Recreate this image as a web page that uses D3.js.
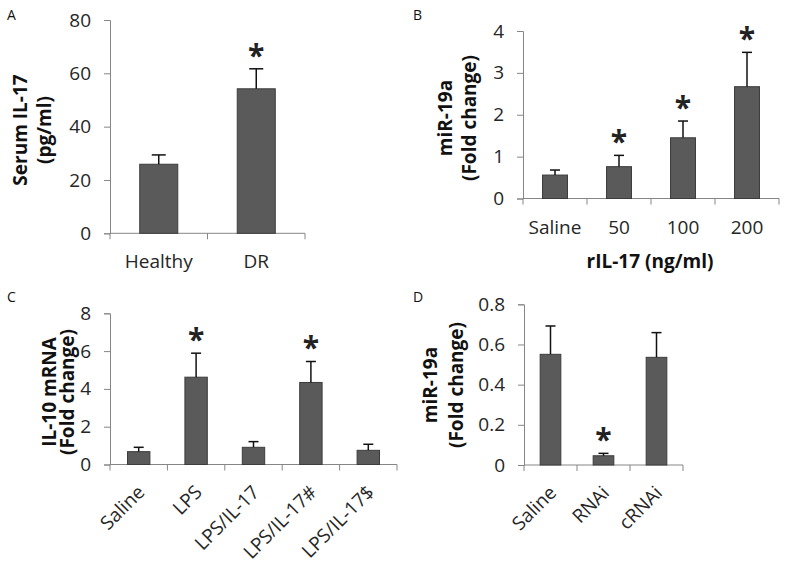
<!DOCTYPE html>
<html><head><meta charset="utf-8">
<script src="https://cdn.jsdelivr.net/npm/d3@7/dist/d3.min.js"></script>
<style>
body{margin:0;background:#fff;}
svg text{font-family:"Open Sans",sans-serif;}
</style></head>
<body><svg id="c" width="785" height="570"></svg>
<script>
// ---- data ----
const aCats = ["Healthy", "DR"];
const aMeans = [25.9, 54.2];
const aSD = [3.5, 7.5];
const aStar = [false, true];
const aTicks = [0, 20, 40, 60, 80];

const bCats = ["Saline", "50", "100", "200"];
const bMeans = [0.56, 0.76, 1.45, 2.67];
const bSD = [0.12, 0.27, 0.40, 0.82];
const bStar = [false, true, true, true];
const bTicks = [0, 1, 2, 3, 4];

const cCats = ["Saline", "LPS", "LPS/IL-17", "LPS/IL-17#", "LPS/IL-17$"];
const cMeans = [0.68, 4.62, 0.91, 4.34, 0.75];
const cSD = [0.23, 1.27, 0.30, 1.11, 0.32];
const cStar = [false, true, false, true, false];
const cTicks = [0, 2, 4, 6, 8];

const dCats = ["Saline", "RNAi", "cRNAi"];
const dMeans = [0.551, 0.046, 0.536];
const dSD = [0.141, 0.012, 0.123];
const dStar = [false, true, false];
const dTicks = [0, 0.2, 0.4, 0.6, 0.8];

const svg = d3.select("#c");
const AXIS = "#868686";
const TXT = "#262626";

function panel(o) {
  const g = svg.append("g");
  const x = d3.scaleBand().domain(o.cats).range([o.x0, o.x1]).paddingInner(0.61).paddingOuter(0.305);
  const y = d3.scaleLinear().domain([0, o.max]).range([o.yb, o.yt]);
  // y axis
  const ya = g.append("g").attr("transform", `translate(${o.x0},0)`)
    .call(d3.axisLeft(y).tickValues(o.ticks).tickSize(6).tickPadding(13).tickFormat(o.fmt || d3.format("d")));
  ya.select(".domain").attr("stroke", AXIS);
  ya.selectAll(".tick line").attr("stroke", AXIS);
  ya.selectAll("text").attr("font-size", 19).attr("fill", TXT).attr("font-family", "Open Sans");
  // x axis line and boundary ticks
  g.append("line").attr("x1", o.x0).attr("x2", o.x1).attr("y1", o.yb).attr("y2", o.yb).attr("stroke", AXIS);
  const bounds = d3.range(o.cats.length + 1).map(i => o.x0 + i * x.step());
  g.selectAll(".bt").data(bounds).join("line")
    .attr("x1", d => d).attr("x2", d => d).attr("y1", o.yb).attr("y2", o.yb + 6).attr("stroke", AXIS);
  // bars
  const data = o.cats.map((c, i) => ({c, m: o.means[i], sd: o.sd[i], s: o.star[i]}));
  g.selectAll(".bar").data(data).join("rect")
    .attr("x", d => x(d.c)).attr("width", x.bandwidth())
    .attr("y", d => y(d.m)).attr("height", d => o.yb - y(d.m))
    .attr("fill", "#5a5a5a").attr("stroke", "#3c3c3c").attr("stroke-width", 1);
  const cx = d => x(d.c) + x.bandwidth() / 2;
  g.selectAll(".ev").data(data).join("line")
    .attr("x1", cx).attr("x2", cx).attr("y1", d => y(d.m)).attr("y2", d => y(d.m + d.sd))
    .attr("stroke", "#111").attr("stroke-width", 1.5);
  g.selectAll(".ec").data(data).join("line")
    .attr("x1", d => cx(d) - o.cap / 2).attr("x2", d => cx(d) + o.cap / 2)
    .attr("y1", d => y(d.m + d.sd)).attr("y2", d => y(d.m + d.sd))
    .attr("stroke", "#111").attr("stroke-width", 1.5);
  g.selectAll(".st").data(data.filter(d => d.s)).join("text")
    .attr("x", cx).attr("y", d => y(d.m + d.sd) - 3)
    .attr("text-anchor", "middle").attr("font-size", 30).attr("font-weight", "bold").attr("fill", "#222")
    .text("*");
  // category labels
  const lab = g.selectAll(".cl").data(o.cats).join("text")
    .attr("font-size", 19).attr("fill", TXT).text(d => d);
  if (o.rot) {
    lab.attr("text-anchor", "end")
      .attr("transform", d => `translate(${x(d) + x.bandwidth() / 2 + 7},${o.yb + 29}) rotate(-45)`);
  } else {
    lab.attr("text-anchor", "middle").attr("x", d => x(d) + x.bandwidth() / 2).attr("y", o.yb + 35);
  }
  // y title
  g.append("text").attr("transform", `translate(${o.tx1},${o.ty}) rotate(-90)`)
    .attr("text-anchor", "middle").attr("font-size", 19).attr("font-weight", "bold").attr("fill", "#111")
    .text(o.title1);
  g.append("text").attr("transform", `translate(${o.tx2},${o.ty}) rotate(-90)`)
    .attr("text-anchor", "middle").attr("font-size", 19).attr("font-weight", "bold").attr("fill", "#111")
    .text(o.title2);
  // panel letter
  g.append("text").attr("x", o.lx).attr("y", o.ly).attr("font-size", 14)
    .attr("font-family", "Liberation Sans").attr("fill", "#111").text(o.letter);
  return g;
}

panel({cats: aCats, means: aMeans, sd: aSD, star: aStar, ticks: aTicks, max: 80,
  x0: 110, x1: 305, yt: 20, yb: 233.3, cap: 14, title1: "Serum IL-17", title2: "(pg/ml)",
  tx1: 27, tx2: 51, ty: 130, letter: "A", lx: 7, ly: 20});
const pb = panel({cats: bCats, means: bMeans, sd: bSD, star: bStar, ticks: bTicks, max: 4,
  x0: 523, x1: 779, yt: 31, yb: 198.5, cap: 10, title1: "miR-19a", title2: "(Fold change)",
  tx1: 452, tx2: 476, ty: 118, letter: "B", lx: 413, ly: 20});
pb.append("text").attr("x", 650).attr("y", 268).attr("text-anchor", "middle")
  .attr("font-size", 19).attr("font-weight", "bold").attr("fill", "#111").text("rIL-17 (ng/ml)");
panel({cats: cCats, means: cMeans, sd: cSD, star: cStar, ticks: cTicks, max: 8,
  x0: 110, x1: 397, yt: 313.3, yb: 464.5, cap: 10, title1: "IL-10 mRNA", title2: "(Fold change)",
  tx1: 56, tx2: 74, ty: 392, letter: "C", lx: 7, ly: 302, rot: true});
panel({cats: dCats, means: dMeans, sd: dSD, star: dStar, ticks: dTicks, max: 0.8,
  x0: 524, x1: 683, yt: 304.3, yb: 465, cap: 10, title1: "miR-19a", title2: "(Fold change)",
  tx1: 437, tx2: 463, ty: 385, letter: "D", lx: 413, ly: 302, rot: true, fmt: d => d === 0 ? "0" : d3.format(".1f")(d)});
</script></body></html>
